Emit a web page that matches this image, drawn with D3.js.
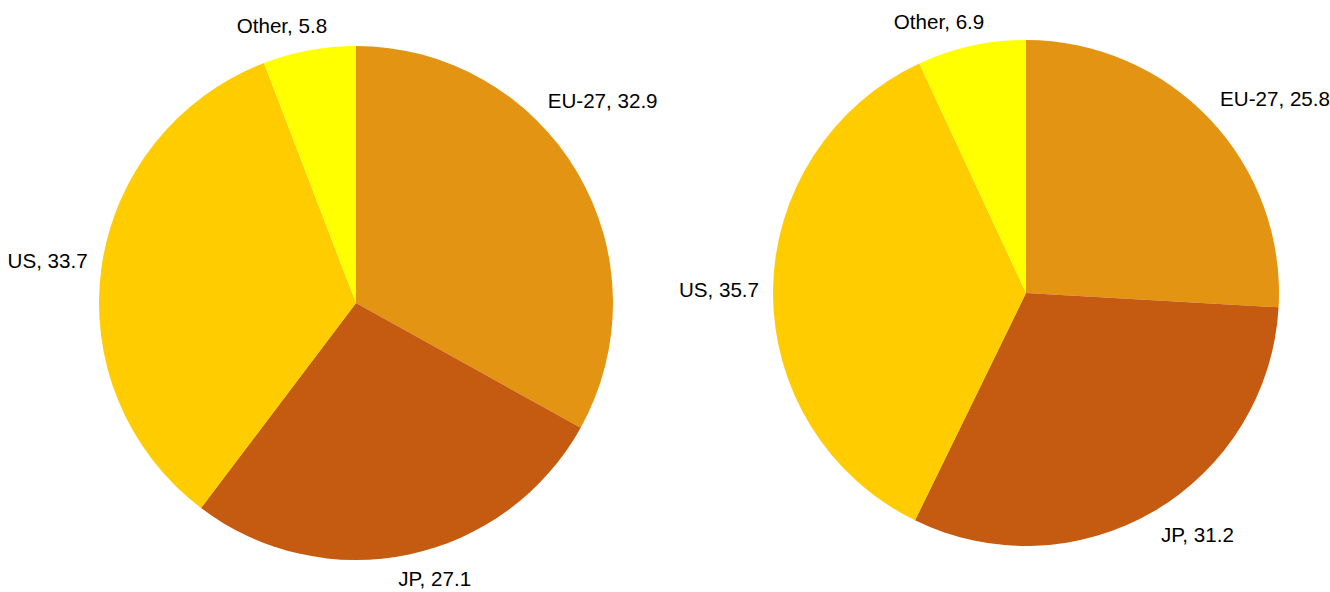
<!DOCTYPE html>
<html>
<head>
<meta charset="utf-8">
<script src="https://cdn.jsdelivr.net/npm/d3@7"></script>
<style>
  html, body { margin: 0; padding: 0; background: #fff; }
  svg { display: block; }
  text { font-family: "Liberation Sans", Arial, sans-serif; font-size: 20.6px; fill: #000; }
</style>
</head>
<body>
<svg id="chart" width="1330" height="592"></svg>
<script>
// Share of each region, two periods
const regions = ["EU-27", "JP", "US", "Other"];
const sharesA = [32.9, 27.1, 33.7, 5.8];
const sharesB = [25.8, 31.2, 35.7, 6.9];
const regionColors = ["#E39412", "#C55A11", "#FFCC00", "#FFFF00"];

const svg = d3.select("#chart");
const color = d3.scaleOrdinal().domain(regions).range(regionColors);

// Layout of the two pies: centre, radius, and the horizontal span labels must stay within
const panels = [
  { values: sharesA, cx: 356, cy: 303, r: 257, x0: 0, x1: 658 },
  { values: sharesB, cx: 1026, cy: 293, r: 253, x0: 660, x1: 1330 }
];

const pie = d3.pie().sort(null).value(d => d.value);

panels.forEach(p => {
  const data = regions.map((name, i) => ({ name, value: p.values[i] }));
  const arcs = pie(data);
  const arc = d3.arc().innerRadius(0).outerRadius(p.r);
  const g = svg.append("g").attr("transform", `translate(${p.cx},${p.cy})`);

  g.selectAll("path")
    .data(arcs)
    .join("path")
    .attr("d", arc)
    .attr("fill", d => color(d.data.name));

  const labelR = p.r + 14;
  const h = 22;
  g.selectAll("text")
    .data(arcs)
    .join("text")
    .attr("text-anchor", "middle")
    .attr("dy", "0.35em")
    .text(d => `${d.data.name}, ${d.data.value}`)
    .each(function(d) {
      const w = this.getComputedTextLength();
      const place = a => {
        const s = Math.sin(a), c = Math.cos(a);
        const px = labelR * s, py = -labelR * c;
        const kx = Math.max(-1, Math.min(1, s * 3));
        const ky = Math.max(-1, Math.min(1, c * 3));
        return [px + kx * w / 2, py - ky * h / 2];
      };
      let a = (d.startAngle + d.endAngle) / 2;
      let [x, y] = place(a);
      // slide the label back along the ring until it fits inside its panel
      let guard = 0;
      while (guard++ < 400) {
        const left = p.cx + x - w / 2, right = p.cx + x + w / 2;
        if (right > p.x1) a += (Math.cos(a) > 0 ? -1 : 1) * Math.PI / 360;
        else if (left < p.x0) a += (Math.cos(a) > 0 ? 1 : -1) * Math.PI / 360;
        else break;
        [x, y] = place(a);
      }
      d3.select(this).attr("x", x).attr("y", y);
    });
});
</script>
</body>
</html>
